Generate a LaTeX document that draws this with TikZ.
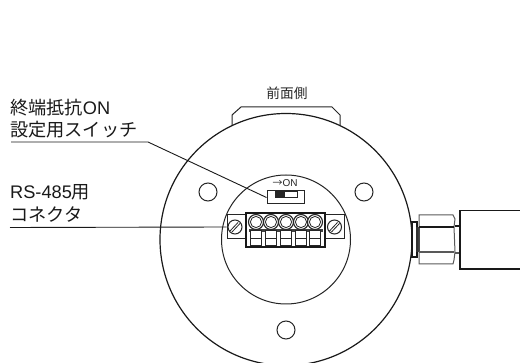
\documentclass[tikz,border=0pt]{standalone}
\usepackage{fontspec}
\setmainfont{Noto Sans CJK JP}
\newfontfamily\lat{Liberation Sans}
\tikzset{
  x=1pt,y=-1pt,
  lbl/.style={inner sep=0pt,anchor=west,font=\fontsize{18.2}{18.2}\selectfont,text=black!90},
  ln/.style={draw=black!90,line width=1.2pt},
  thin ln/.style={draw=black!85,line width=1pt},
  pin/.style={circle,draw=black!85,line width=1.1pt,minimum size=15pt,inner sep=0pt},
  hole/.style={circle,draw=black!85,line width=1pt,minimum size=18pt,inner sep=0pt},
  leader/.style={draw=black!90,line width=.9pt}
}
\begin{document}
\begin{tikzpicture}
\useasboundingbox (0,0) rectangle (520,363);
% tab
\draw[thin ln] (232,125) -- (232,115) -- (241,107) -- (332,107) -- (340,115) -- (340,125);
% big circles
\fill[white] (286,239.5) circle (126);
\node[circle,ln,line width=1.2pt,minimum size=252pt,inner sep=0pt] (outer) at (286,239.5) {};
\node[circle,thin ln,minimum size=129pt,inner sep=0pt] (inner) at (286,239.5) {};
\node[hole] (h1) at (208,192) {};
\node[hole] (h2) at (364,192) {};
\node[hole] (h3) at (286,330) {};
% connector on the right
\draw[ln,fill=white] (412,222) rectangle (417,257);
\fill[black!80] (416,227) rectangle (420,252);
\draw[thin ln,draw=black!65] (419,215) -- (453,215) -- (455,219) -- (454,227) -- (455,252) -- (454,260) -- (453,264) -- (419,264) -- cycle;
\draw[ln] (419,227) -- (454,227);
\draw[ln,draw=black!65] (419,252) -- (454,252);
\draw[ln] (455,226) -- (460,226);
\draw[ln,draw=black!65] (455,253) -- (460,253);
\draw[ln] (520,210.5) -- (460,210.5) -- (460,269) -- (520,269);
% switch
\node[rectangle,thin ln,fill=white,minimum width=37pt,minimum height=13pt,inner sep=0pt] (sw) at (285.5,197.5) {};
\draw[thin ln] (275,192) rectangle (297,198);
\fill[black!85] (276,192.5) rectangle (285,198);
\node[inner sep=0pt,font=\fontsize{10}{10}\selectfont,text=black!85] (on) at (285,183.5) {→{\lat ON}};
% terminal block
\node[rectangle,thin ln,fill=white,minimum width=19pt,minimum height=24pt,inner sep=0pt] (earl) at (236.5,227) {};
\node[rectangle,thin ln,fill=white,minimum width=19pt,minimum height=24pt,inner sep=0pt] (earr) at (335,227) {};
\node[rectangle,ln,fill=white,minimum width=79pt,minimum height=34pt,inner sep=0pt] (blk) at (285.5,230) {};
\foreach \i/\x in {1/256,2/271,3/286,4/301,5/315}{
  \fill[black!75] (\x-7.5,229) rectangle (\x+7.5,232);
  \draw[thin ln,fill=white] (\x-5.5,231) rectangle (\x+5.5,238.5);
  \draw[thin ln,fill=white] (\x-5.5,238.5) rectangle (\x+5.5,246);
  \node[pin,fill=white] (s\i) at (\x,222) {};
  \draw[thin ln,line width=.8pt] (\x,222) circle (5.6);
}
\foreach \n/\x in {l/235,r/334.5}{
  \node[circle,thin ln,minimum size=14pt,inner sep=0pt] (e\n) at (\x,227) {};
  \draw[thin ln,line width=.8pt] (\x-5,231) -- (\x+3,222.5) (\x-3,232) -- (\x+5,223.5);
}
% labels
\node[inner sep=0pt,font=\fontsize{13.7}{13.7}\selectfont,text=black!85] (front) at (287,93) {前面側};
\node[lbl] (t1) at (10,108) {終端抵抗{\lat ON}};
\node[lbl] (t2) at (10,130) {設定用スイッチ};
\node[lbl] (t3) at (10,192) {{\lat RS-485}用};
\node[lbl] (t4) at (10,214) {コネクタ};
\coordinate (a0) at (11,142);
\coordinate (a1) at (148,142);
\coordinate (b0) at (10,227.5);
\draw[leader] (a0) -- (a1) -- (sw.west);
\draw[leader] (b0) -- (earl.west);
\end{tikzpicture}
\end{document}
